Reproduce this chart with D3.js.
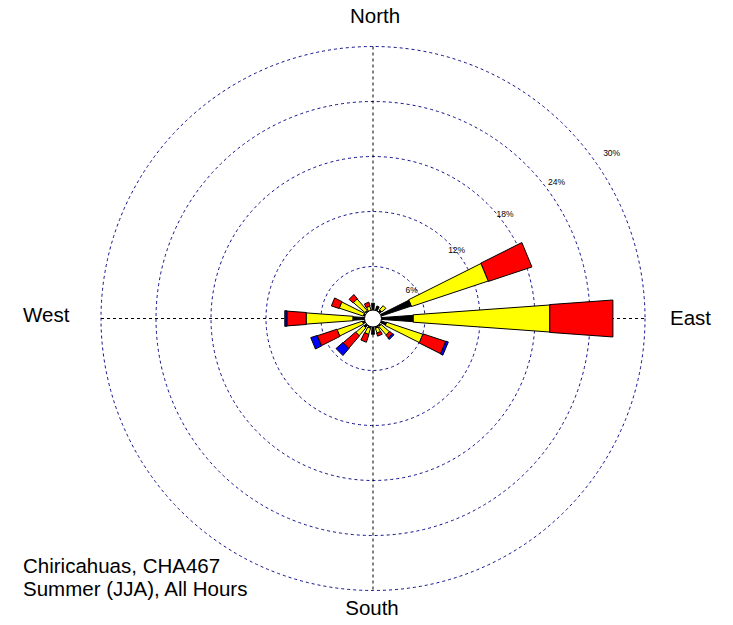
<!DOCTYPE html>
<html>
<head>
<meta charset="utf-8">
<script src="https://cdn.jsdelivr.net/npm/d3@7"></script>
<style>
html, body { margin: 0; padding: 0; background: #fff; }
svg { display: block; }
</style>
</head>
<body>
<script>
// ---- data ----
const directions = ["N","NNE","NE","ENE","E","ESE","SE","SSE","S","SSW","SW","WSW","W","WNW","NW","NNW"];
const speedClasses = ["class1","class2","class3","class4"];
const classColors = ["#000000","#ffff00","#ff0000","#0000ff"];
const class1 = [2.0, 1.75, 1.5, 4.7, 4.7, 1.85, 1.4, 1.4, 2.05, 1.4, 1.6, 1.5, 2.5, 1.4, 1.4, 1.2];
const class2 = [0.0, 0.0, 0.6, 8.8, 14.9, 4.15, 1.2, 0.55, 0.0, 0.7, 1.1, 2.9, 5.1, 2.75, 1.65, 0.5];
const class3 = [0.0, 0.0, 0.0, 5.0, 6.9, 2.6, 0.4, 0.35, 0.0, 0.9, 1.8, 2.25, 2.1, 0.9, 0.6, 0.45];
const class4 = [0.0, 0.0, 0.0, 0.0, 0.0, 0.3, 0.2, 0.0, 0.0, 0.0, 1.0, 0.75, 0.25, 0.0, 0.0, 0.0];
const ringValues = [6, 12, 18, 24, 30];
const ringLabels = ["6%", "12%", "18%", "24%", "30%"];
const compassLabels = ["North", "East", "South", "West"];
const titleLines = ["Chiricahuas, CHA467", "Summer (JJA), All Hours"];

// ---- layout ----
const W = 733, H = 625;
const cx = 373, cy = 318.5;
const svg = d3.select("body").append("svg").attr("width", W).attr("height", H);
svg.append("rect").attr("width", W).attr("height", H).attr("fill", "#fff");

const r = d3.scaleLinear().domain([6, 30]).range([52, 272]);
const rr = v => Math.max(0, r(v));
const angle = d3.scalePoint().domain(directions).range([0, 337.5]);
const font = "'Liberation Sans', Arial, Helvetica, sans-serif";

// rings
svg.append("g").selectAll("circle").data(ringValues).join("circle")
  .attr("cx", cx).attr("cy", cy).attr("r", d => r(d))
  .attr("fill", "none").attr("stroke", "#10108a").attr("stroke-width", 1)
  .attr("stroke-dasharray", "3,3");

// axes
const R = r(30);
const axes = svg.append("g").attr("stroke", "#000").attr("stroke-width", 1).attr("stroke-dasharray", "3,3");
axes.append("line").attr("x1", cx).attr("x2", cx).attr("y1", cy - R).attr("y2", cy + R);
axes.append("line").attr("x1", cx - R).attr("x2", cx + R).attr("y1", cy).attr("y2", cy);

// ring labels (placed just outside each ring, toward the NE)
const lx = rad => 0.000555 * rad * rad + 0.729 * rad - 0.7;
const ly = rad => 0.00065 * rad * rad - 0.834 * rad + 13.6;
svg.append("g").selectAll("text").data(ringValues).join("text")
  .attr("x", d => cx + lx(r(d)))
  .attr("y", d => cy + ly(r(d)) + 3)
  .attr("text-anchor", "middle")
  .attr("font-family", font).attr("font-size", "8.5px").attr("fill", "#000")
  .text((d, i) => ringLabels[i]);

// petals
const classData = [class1, class2, class3, class4];
const addHW = [0.3, 0.8, 1.2, 1.5];
const k = 0.072;
const segs = [];
directions.forEach((dir, i) => {
  let cum = 0;
  classData.forEach((arr, c) => {
    const v = arr[i];
    if (v > 0) segs.push({dir, c, v0: cum, v1: cum + v});
    cum += v;
  });
});
function segPath(s) {
  const th = angle(s.dir) * Math.PI / 180;
  const ux = Math.sin(th), uy = -Math.cos(th);
  const px = Math.cos(th), py = Math.sin(th);
  const r0 = rr(s.v0), r1 = rr(s.v1);
  const h0 = addHW[s.c] + k * r0, h1 = addHW[s.c] + k * r1;
  const pts = [
    [cx + ux * r0 + px * h0, cy + uy * r0 + py * h0],
    [cx + ux * r1 + px * h1, cy + uy * r1 + py * h1],
    [cx + ux * r1 - px * h1, cy + uy * r1 - py * h1],
    [cx + ux * r0 - px * h0, cy + uy * r0 - py * h0]
  ];
  return d3.line()(pts) + "Z";
}
svg.append("g").selectAll("path").data(segs.slice().sort((a, b) => b.c - a.c)).join("path")
  .attr("d", segPath)
  .attr("fill", d => classColors[d.c])
  .attr("stroke", "#000").attr("stroke-width", 1).attr("stroke-linejoin", "miter");

// calm circle
svg.append("circle").attr("cx", cx).attr("cy", cy).attr("r", 8.5)
  .attr("fill", "#fff").attr("stroke", "#000").attr("stroke-width", 1);

// compass labels
const lab = svg.append("g").attr("font-family", font).attr("font-size", "20.5px").attr("fill", "#000");
lab.append("text").attr("x", 375).attr("y", 23).attr("text-anchor", "middle").text(compassLabels[0]);
lab.append("text").attr("x", 670).attr("y", 325).attr("text-anchor", "start").text(compassLabels[1]);
lab.append("text").attr("x", 372).attr("y", 615).attr("text-anchor", "middle").text(compassLabels[2]);
lab.append("text").attr("x", 23).attr("y", 322).attr("text-anchor", "start").text(compassLabels[3]);

// title
svg.append("g").attr("font-family", font).attr("font-size", "20.5px").attr("fill", "#000")
  .selectAll("text").data(titleLines).join("text")
  .attr("x", 23).attr("y", (d, i) => 573 + i * 23).text(d => d);
</script>
</body>
</html>
